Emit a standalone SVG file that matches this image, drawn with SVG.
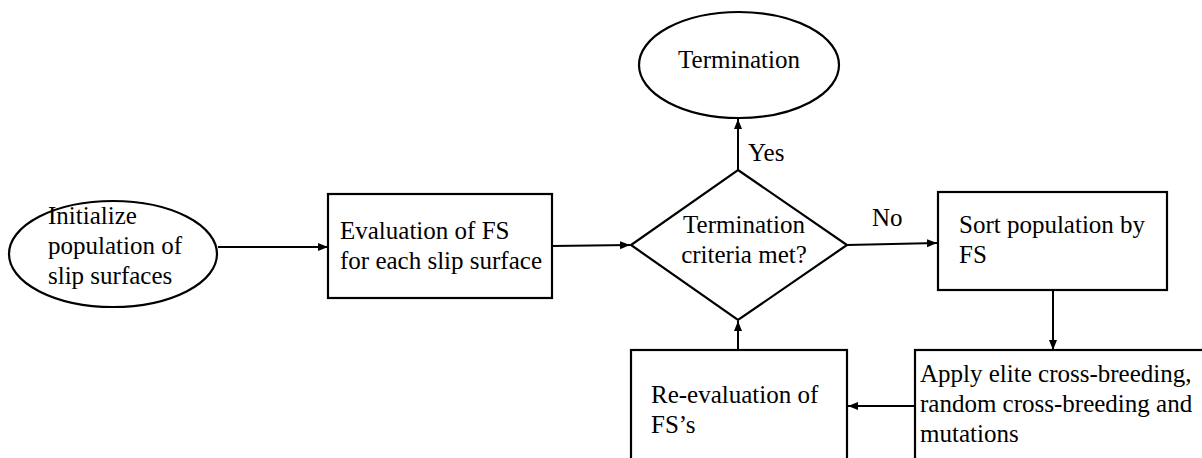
<svg xmlns="http://www.w3.org/2000/svg" width="1202" height="458" viewBox="0 0 1202 458">
  <style>
    .shape { fill: #ffffff; stroke: #000000; stroke-width: 2.2; }
    .label { font-family: "Liberation Serif", "Times New Roman", serif; font-size: 25px; fill: #000000; }
    .mid { text-anchor: middle; }
    .link { fill: none; stroke: #000000; stroke-width: 2; marker-end: url(#arrow); }
  </style>
  <defs>
    <marker id="arrow" viewBox="0 0 10 10" refX="10" refY="5" markerWidth="10" markerHeight="10" markerUnits="userSpaceOnUse" orient="auto">
      <path d="M0,1 L10,5 L0,9 Z" fill="#000000"/>
    </marker>
  </defs>

  <rect width="1202" height="458" fill="#ffffff"/>

  <g id="connectors">
    <line class="link" x1="218" y1="247" x2="328" y2="247"/>
    <line class="link" x1="552" y1="246" x2="630" y2="245"/>
    <line class="link" x1="738" y1="170" x2="738" y2="119"/>
    <line class="link" x1="847" y1="245" x2="937" y2="243"/>
    <line class="link" x1="1053" y1="291" x2="1053" y2="350"/>
    <line class="link" x1="915" y1="406" x2="848" y2="406"/>
    <line class="link" x1="738" y1="350" x2="738" y2="321"/>
    <text class="label" x="748" y="161">Yes</text>
    <text class="label" x="872" y="226">No</text>
  </g>

  <g id="init">
    <ellipse class="shape" cx="113" cy="254" rx="104" ry="53"/>
    <text class="label" x="48" y="224">Initialize</text>
    <text class="label" x="48" y="254">population of</text>
    <text class="label" x="48" y="284">slip surfaces</text>
  </g>

  <g id="evaluate">
    <rect class="shape" x="328" y="194" width="224" height="104"/>
    <text class="label" x="340" y="239">Evaluation of FS</text>
    <text class="label" x="340" y="269">for each slip surface</text>
  </g>

  <g id="decision">
    <polygon class="shape" points="738,170 847,245 738,320 631,245"/>
    <text class="label mid" x="744" y="233">Termination</text>
    <text class="label mid" x="744" y="263">criteria met?</text>
  </g>

  <g id="termination">
    <ellipse class="shape" cx="739" cy="65" rx="100" ry="53"/>
    <text class="label mid" x="739" y="68">Termination</text>
  </g>

  <g id="sort">
    <rect class="shape" x="938" y="192" width="229" height="98"/>
    <text class="label" x="959" y="233">Sort population by</text>
    <text class="label" x="959" y="263">FS</text>
  </g>

  <g id="breed">
    <rect class="shape" x="915" y="350" width="300" height="120"/>
    <text class="label" x="920" y="382">Apply elite cross-breeding,</text>
    <text class="label" x="920" y="412">random cross-breeding and</text>
    <text class="label" x="920" y="442">mutations</text>
  </g>

  <g id="reevaluate">
    <rect class="shape" x="631" y="350" width="216" height="120"/>
    <text class="label" x="651" y="403">Re-evaluation of</text>
    <text class="label" x="651" y="433">FS’s</text>
  </g>
</svg>
